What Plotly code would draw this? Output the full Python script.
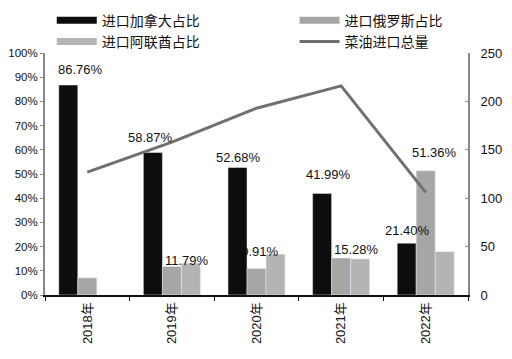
import plotly.graph_objects as go

years = ["2018年", "2019年", "2020年", "2021年", "2022年"]
canada = [86.76, 58.87, 52.68, 41.99, 21.40]
russia = [7.1, 11.79, 10.91, 15.28, 51.36]
uae = [None, 13.1, 16.9, 14.9, 17.9]
total = [127, 158, 193, 216, 106]

canada_labels = ["86.76%", "58.87%", "52.68%", "41.99%", "21.40%"]
russia_labels = [None, "11.79%", "10.91%", "15.28%", "51.36%"]

# label placement (pixel shifts from category centre / bar top)
can_dx = [-7, -21, -18, -13, -18]
can_dy = [16, 15, 10, 19, 13]
rus_dx = [0, 15, 0, 15, 9]
rus_dy = [0, 6, 17, 9, 18]

c_can = "#0d0d0d"
c_rus = "#a6a6a6"
c_uae = "#b4b4b4"
c_line = "#707070"

fig = go.Figure()
fig.add_bar(x=years, y=canada, marker_color=c_can, name="进口加拿大占比", showlegend=False)
fig.add_bar(x=years, y=russia, marker_color=c_rus, name="进口俄罗斯占比", showlegend=False)
fig.add_bar(x=years, y=uae, marker_color=c_uae, name="进口阿联酋占比", showlegend=False)
fig.add_scatter(x=years, y=total, yaxis="y2", mode="lines", line=dict(color=c_line, width=3),
                name="菜油进口总量", showlegend=False)

# legend proxies (two columns via two legends)
for nm, col, w, lg in [("进口加拿大占比", c_can, 7, "legend"), ("进口阿联酋占比", c_uae, 7, "legend"),
                       ("进口俄罗斯占比", c_rus, 7, "legend2"), ("菜油进口总量", c_line, 3, "legend2")]:
    fig.add_scatter(x=[None], y=[None], mode="lines", line=dict(color=col, width=w), name=nm, legend=lg)

annots = []
for i, y in enumerate(years):
    annots.append(dict(x=y, y=canada[i], xref="x", yref="y", text=canada_labels[i], showarrow=False,
                       xshift=can_dx[i], yshift=can_dy[i], font=dict(size=13, color="#111")))
    if russia_labels[i]:
        annots.append(dict(x=y, y=russia[i], xref="x", yref="y", text=russia_labels[i], showarrow=False,
                           xshift=rus_dx[i], yshift=rus_dy[i], font=dict(size=13, color="#111")))

legend_font = dict(family="Noto Sans CJK SC", size=14, color="#111")

fig.update_layout(
    width=512, height=359,
    margin=dict(l=37, r=52, t=45, b=72, autoexpand=False),
    paper_bgcolor="white", plot_bgcolor="white",
    font=dict(family="Liberation Sans, Arial, sans-serif", size=12, color="#111"),
    barmode="group", bargap=0.326, bargroupgap=0,
    showlegend=True,
    legend=dict(orientation="v", x=0.016, y=1.2, xanchor="left", yanchor="top",
                font=legend_font, itemwidth=40, tracegroupgap=0, bgcolor="rgba(0,0,0,0)"),
    legend2=dict(orientation="v", x=0.59, y=1.2, xanchor="left", yanchor="top",
                 font=legend_font, itemwidth=40, tracegroupgap=0, bgcolor="rgba(0,0,0,0)"),
    xaxis=dict(type="category", showline=True, linecolor="#111", linewidth=2,
               ticks="outside", tickson="boundaries", ticklen=4, tickcolor="#111",
               tickangle=-90, tickfont=dict(family="Liberation Sans, Noto Sans CJK SC", size=13),
               showgrid=False, automargin=False),
    yaxis=dict(range=[0, 100], dtick=10, ticksuffix="%", showline=True, linecolor="#888",
               linewidth=2, ticks="outside", ticklen=3, tickcolor="#888", showgrid=False,
               zeroline=False, tickfont=dict(size=11.5), automargin=False),
    yaxis2=dict(range=[0, 250], dtick=50, overlaying="y", side="right", showline=True,
                linecolor="#888", linewidth=2, ticks="inside", ticklen=3, tickcolor="#888",
                showgrid=False, zeroline=False, tickfont=dict(size=13), automargin=False,
                ticklabelstandoff=8),
    annotations=annots,
)

fig.write_html("out.html")
